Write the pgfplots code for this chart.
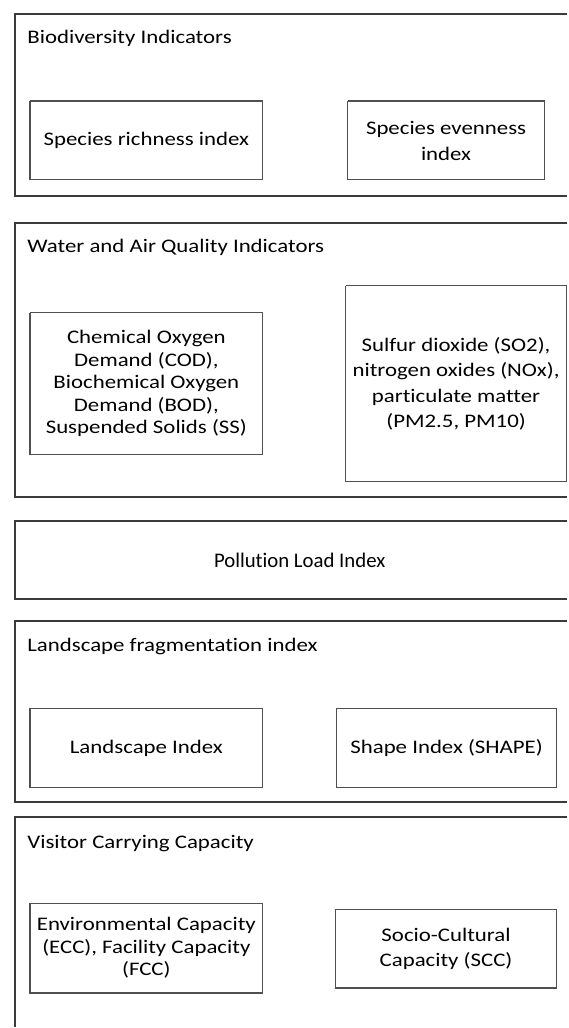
\documentclass[border=0pt]{standalone}
\usepackage{pgfplots}
\pgfplotsset{compat=1.18}
\usepackage{fontspec}
\setmainfont{Carlito}[FakeStretch=1.19, Ligatures=NoCommon]
\newfontfamily\plainfont{Carlito}[Ligatures=NoCommon]
\definecolor{outerline}{HTML}{3A3A3A}
\definecolor{innerline}{HTML}{505050}
\tikzset{
  outer/.style={draw=outerline, line width=1pt},
  inner/.style={draw=innerline, line width=0.6pt},
  lab/.style={font=\fontsize{9.6}{12.75}\selectfont, inner sep=0pt, align=center, text=black},
  tight/.style={font=\fontsize{9.6}{11.3}\selectfont},
}
\begin{document}
\begin{tikzpicture}
\begin{axis}[
  scale only axis, width=284pt, height=514pt,
  xmin=0, xmax=568, ymin=0, ymax=1028, y dir=reverse,
  hide axis, clip=false,
]
% invisible corners to fix the picture size
\addplot[draw=none, mark=none] coordinates {(0,0) (568,1028)};
% outer frames (open at the right edge)
\addplot[outer, mark=none] coordinates {(568,14) (15,14) (15,196) (568,196)};
\addplot[outer, mark=none] coordinates {(568,223) (15,223) (15,497) (568,497)};
\addplot[outer, mark=none] coordinates {(568,521) (15,521) (15,600) (568,600)};
\addplot[outer, mark=none] coordinates {(568,622) (15,622) (15,803) (568,803)};
\addplot[outer, mark=none] coordinates {(568,818) (15,818) (15,1028)};
% inner boxes
\addplot[inner, mark=none] coordinates {(30,101) (263,101) (263,180) (30,180) (30,101)};
\addplot[inner, mark=none] coordinates {(348,101) (545,101) (545,180) (348,180) (348,101)};
\addplot[inner, mark=none] coordinates {(30,313) (263,313) (263,455) (30,455) (30,313)};
\addplot[inner, mark=none] coordinates {(346,286) (567,286) (567,482) (346,482) (346,286)};
\addplot[inner, mark=none] coordinates {(30,709) (263,709) (263,788) (30,788) (30,709)};
\addplot[inner, mark=none] coordinates {(337,709) (557,709) (557,788) (337,788) (337,709)};
\addplot[inner, mark=none] coordinates {(30,904) (263,904) (263,994) (30,994) (30,904)};
\addplot[inner, mark=none] coordinates {(336,910) (557,910) (557,989) (336,989) (336,910)};
% titles
\node[lab, anchor=base west] at (axis cs:27,44) {Biodiversity Indicators};
\node[lab, anchor=base west] at (axis cs:27,253) {Water and Air Quality Indicators};
\node[lab, anchor=base west] at (axis cs:27,652) {Landscape fragmentation index};
\node[lab, anchor=base west] at (axis cs:27,849) {Visitor Carrying Capacity};
\node[lab, font=\plainfont\fontsize{10.4}{12}\selectfont, anchor=base] at (axis cs:300,568) {Pollution Load Index};
% inner texts
\node[lab] at (axis cs:146.5,141) {Species richness index};
\node[lab] at (axis cs:446.5,141) {Species evenness\\index};
\node[lab, tight] at (axis cs:146.5,384) {Chemical Oxygen\\Demand (COD),\\Biochemical Oxygen\\Demand (BOD),\\Suspended Solids (SS)};
\node[lab] at (axis cs:456.5,384) {Sulfur dioxide (SO2),\\nitrogen oxides (NOx),\\particulate matter\\(PM2.5, PM10)};
\node[lab] at (axis cs:146.5,749) {Landscape Index};
\node[lab] at (axis cs:447,749) {Shape Index (SHAPE)};
\node[lab, tight] at (axis cs:146.5,949) {Environmental Capacity\\(ECC), Facility Capacity\\(FCC)};
\node[lab] at (axis cs:446.5,950) {Socio-Cultural\\Capacity (SCC)};
\end{axis}
\end{tikzpicture}
\end{document}
